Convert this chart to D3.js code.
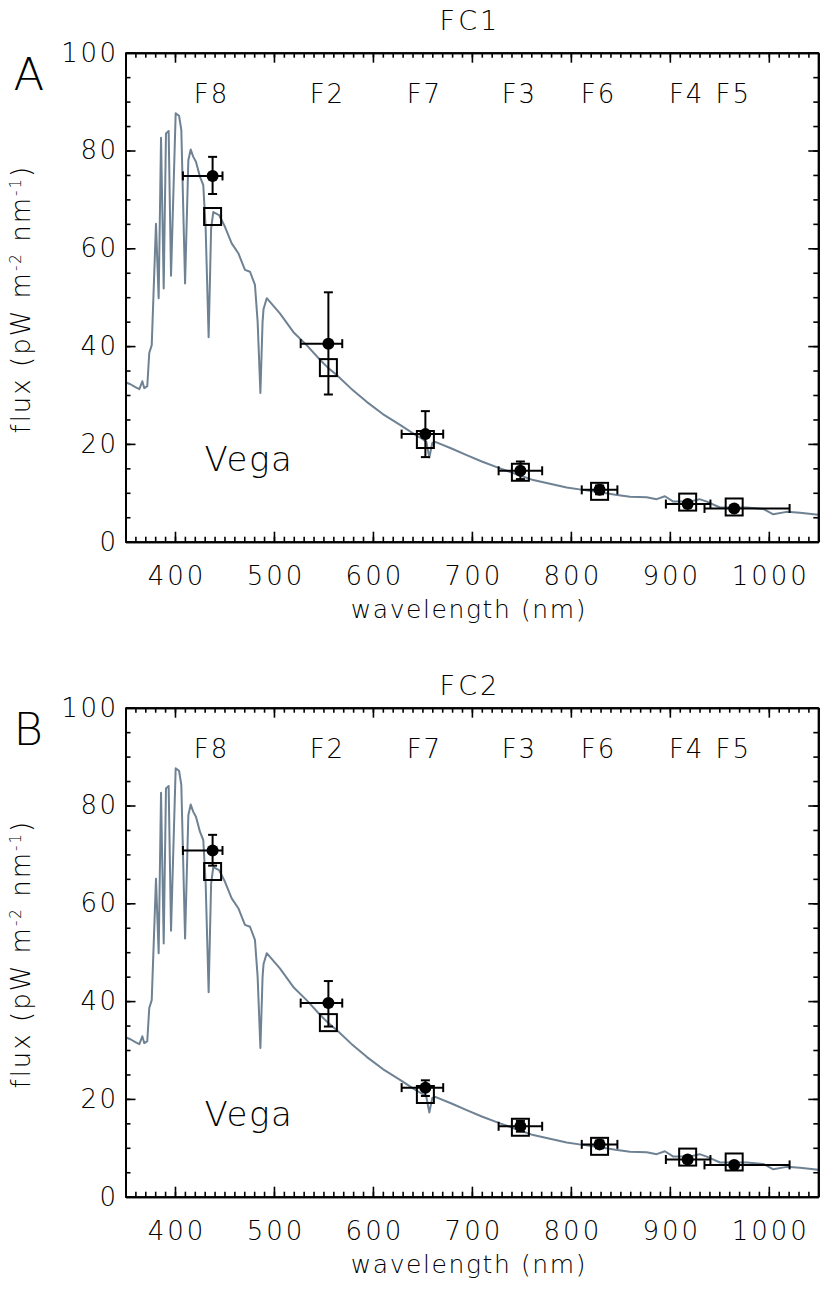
<!DOCTYPE html>
<html>
<head>
<meta charset="utf-8">
<script src="https://cdn.jsdelivr.net/npm/d3@7"></script>
<style>
body { margin: 0; background: #fff; }
svg text { font-family: "DejaVu Sans", sans-serif; font-weight: 200; fill: #000; }
.axis path, .axis line { stroke: #000; }
</style>
</head>
<body>
<svg id="chart" width="822" height="1290"></svg>
<script>
// Vega model spectrum (nm, pW m-2 nm-1)
var vegaWl = [350, 355, 360, 364, 367, 369, 372, 374, 376.5, 380.8, 383.5, 385.9, 388.6, 390.9, 393.6, 396,
  400.7, 404.1, 406.4, 410.2, 413.5, 415.9, 418.5, 421.2, 425.3, 428.6, 431, 434, 436.5, 438.7, 444.5, 450.5,
  457.3, 464, 470.7, 475.8, 480.8, 483.5, 486.3, 488.5, 489.5, 492.7, 506, 519.5, 533, 546.5, 555, 563.4,
  578, 593.7, 610, 627.4, 642.5, 650, 654, 657, 660, 663, 680, 694.7, 710, 728.4, 745, 762, 780, 795.8,
  812, 829.4, 845, 859.7, 876.6, 886.7, 895, 903.5, 920, 930, 937.3, 950.7, 977.6, 994.4, 1004.5, 1018, 1031.4, 1050];
var vegaFlux = [32.6, 32.2, 31.6, 31.2, 32.8, 31.4, 31.8, 38.6, 40.2, 65, 49.8, 82.6, 51.8, 83.5, 84.0, 54.4,
  87.6, 87.1, 84.2, 52.8, 78, 80.2, 78.7, 77.7, 74.6, 72.9, 64, 41.8, 64, 67.4, 66.8, 64.4,
  61, 59, 55.6, 55.2, 52.5, 45, 30.4, 45, 47.6, 49.8, 46.7, 42.9, 40.2, 37.2, 35.5, 34.1,
  31.3, 28.6, 26.1, 23.9, 21.9, 21.0, 20.4, 17.2, 20.2, 20.4, 19.0, 17.7, 16.4, 15.0, 13.8, 12.6, 11.8, 11.1,
  10.6, 10.1, 9.6, 9.2, 9.1, 8.7, 9.3, 8.2, 8.2, 8.7, 8.2, 7.0, 7.0, 6.7, 5.6, 6.1, 5.9, 5.5];

// filters
var filters = ["F8", "F2", "F7", "F3", "F6", "F4", "F5"];
var filterWl = [438, 555, 653, 749, 829, 918, 965];
var filterWlLo = [408, 527, 629, 727, 811, 896, 935];
var filterWlHi = [448, 569, 671, 771, 847, 941, 1021];

// model (synthetic) flux of Vega in each filter - open squares
var modelFlux = [66.5, 35.6, 20.9, 14.2, 10.3, 8.1, 7.1];

// measured flux, FC1
var fc1Flux = [74.8, 40.5, 22.0, 14.5, 10.6, 7.7, 6.8];
var fc1Lo = [71.1, 30.1, 17.3, 12.8, 9.7, 7.1, 6.3];
var fc1Hi = [78.7, 51.0, 26.7, 16.4, 11.5, 8.3, 7.3];

// measured flux, FC2
var fc2Flux = [70.8, 39.6, 22.3, 14.4, 10.7, 7.6, 6.5];
var fc2Lo = [67.7, 34.8, 20.6, 13.3, 9.9, 7.0, 6.0];
var fc2Hi = [74.0, 44.1, 23.8, 15.5, 11.5, 8.2, 7.0];

var xMajor = [400, 500, 600, 700, 800, 900, 1000];
var xMinor = d3.range(350, 1051, 10);
var yMajor = [0, 20, 40, 60, 80, 100];
var yMinor = d3.range(0, 101, 5);

var svg = d3.select("#chart");
var left = 125.5, width = 692.8, height = 489;

var spectrum = vegaWl.map(function(d, i) { return {wl: d, flux: vegaFlux[i]}; });

function makePoints(flux, lo, hi) {
  return filters.map(function(f, i) {
    return {name: f, wl: filterWl[i], wlLo: filterWlLo[i], wlHi: filterWlHi[i],
      flux: flux[i], lo: lo[i], hi: hi[i], model: modelFlux[i]};
  });
}

function drawPanel(top, title, titleY, letter, points) {
  var g = svg.append("g").attr("transform", "translate(" + left + "," + top + ")");

  var xScale = d3.scaleLinear().domain([350, 1050]).range([0, width]),
      yScale = d3.scaleLinear().domain([0, 100]).range([height, 0]);

  // spectrum
  var line = d3.line()
    .x(function(d) { return xScale(d.wl); })
    .y(function(d) { return yScale(d.flux); });

  g.append("path")
    .datum(spectrum)
    .attr("d", line)
    .attr("fill", "none")
    .attr("stroke", "#6e8294")
    .attr("stroke-width", 2)
    .attr("stroke-linejoin", "round");

  // axes: ticks inward on all four sides
  g.append("g").attr("class", "axis").attr("transform", "translate(0," + height + ")")
    .call(d3.axisBottom(xScale).tickValues(xMinor).tickSizeInner(-5).tickSizeOuter(0).tickFormat(""));
  g.append("g").attr("class", "axis xlab").attr("transform", "translate(0," + height + ")")
    .call(d3.axisBottom(xScale).tickValues(xMajor).tickSizeInner(-10).tickSizeOuter(0).tickPadding(25).tickFormat(d3.format("d")));
  g.append("g").attr("class", "axis")
    .call(d3.axisTop(xScale).tickValues(xMinor).tickSizeInner(-5).tickSizeOuter(0).tickFormat(""));
  g.append("g").attr("class", "axis")
    .call(d3.axisTop(xScale).tickValues(xMajor).tickSizeInner(-10).tickSizeOuter(0).tickFormat(""));

  g.append("g").attr("class", "axis")
    .call(d3.axisLeft(yScale).tickValues(yMinor).tickSizeInner(-5).tickSizeOuter(0).tickFormat(""));
  g.append("g").attr("class", "axis ylab")
    .call(d3.axisLeft(yScale).tickValues(yMajor).tickSizeInner(-10).tickSizeOuter(0).tickPadding(11).tickFormat(d3.format("d")));
  g.append("g").attr("class", "axis").attr("transform", "translate(" + width + ",0)")
    .call(d3.axisRight(yScale).tickValues(yMinor).tickSizeInner(-5).tickSizeOuter(0).tickFormat(""));
  g.append("g").attr("class", "axis").attr("transform", "translate(" + width + ",0)")
    .call(d3.axisRight(yScale).tickValues(yMajor).tickSizeInner(-10).tickSizeOuter(0).tickFormat(""));

  g.selectAll(".axis path").attr("stroke-width", 2);
  g.selectAll(".axis line").attr("stroke-width", 1.6);
  g.selectAll(".axis text").style("font-size", "26px").style("font-family", "DejaVu Sans")
    .style("font-weight", 200).style("letter-spacing", "3px");
  g.selectAll(".xlab text").attr("dx", "1.5px");
  g.selectAll(".ylab text").style("letter-spacing", "2.5px").attr("dx", "4px");

  // filter names
  g.selectAll(".fname")
    .data(points)
    .enter().append("text")
    .attr("class", "fname")
    .attr("x", function(d) { return xScale(d.wl) - 1; })
    .attr("y", 50)
    .attr("text-anchor", "middle")
    .style("font-size", "26px")
    .style("letter-spacing", "2px")
    .text(function(d) { return d.name; });

  // model squares
  g.selectAll(".model")
    .data(points)
    .enter().append("rect")
    .attr("class", "model")
    .attr("x", function(d) { return xScale(d.wl) - 8.5; })
    .attr("y", function(d) { return yScale(d.model) - 8.5; })
    .attr("width", 17)
    .attr("height", 17)
    .attr("fill", "none")
    .attr("stroke", "#000")
    .attr("stroke-width", 2);

  // error bars
  var eb = g.selectAll(".err")
    .data(points)
    .enter().append("g")
    .attr("class", "err")
    .attr("stroke", "#000")
    .attr("stroke-width", 2);

  eb.append("line")
    .attr("x1", function(d) { return xScale(d.wlLo); })
    .attr("x2", function(d) { return xScale(d.wlHi); })
    .attr("y1", function(d) { return yScale(d.flux); })
    .attr("y2", function(d) { return yScale(d.flux); });
  eb.append("line")
    .attr("x1", function(d) { return xScale(d.wlLo); })
    .attr("x2", function(d) { return xScale(d.wlLo); })
    .attr("y1", function(d) { return yScale(d.flux) - 4.5; })
    .attr("y2", function(d) { return yScale(d.flux) + 4.5; });
  eb.append("line")
    .attr("x1", function(d) { return xScale(d.wlHi); })
    .attr("x2", function(d) { return xScale(d.wlHi); })
    .attr("y1", function(d) { return yScale(d.flux) - 4.5; })
    .attr("y2", function(d) { return yScale(d.flux) + 4.5; });
  eb.append("line")
    .attr("x1", function(d) { return xScale(d.wl); })
    .attr("x2", function(d) { return xScale(d.wl); })
    .attr("y1", function(d) { return yScale(d.lo); })
    .attr("y2", function(d) { return yScale(d.hi); });
  eb.append("line")
    .attr("x1", function(d) { return xScale(d.wl) - 4.5; })
    .attr("x2", function(d) { return xScale(d.wl) + 4.5; })
    .attr("y1", function(d) { return yScale(d.lo); })
    .attr("y2", function(d) { return yScale(d.lo); });
  eb.append("line")
    .attr("x1", function(d) { return xScale(d.wl) - 4.5; })
    .attr("x2", function(d) { return xScale(d.wl) + 4.5; })
    .attr("y1", function(d) { return yScale(d.hi); })
    .attr("y2", function(d) { return yScale(d.hi); });

  // measured points
  g.selectAll(".meas")
    .data(points)
    .enter().append("circle")
    .attr("class", "meas")
    .attr("cx", function(d) { return xScale(d.wl); })
    .attr("cy", function(d) { return yScale(d.flux); })
    .attr("r", 6)
    .attr("fill", "#000");

  // labels
  g.append("text")
    .attr("x", 79)
    .attr("y", 418)
    .style("font-size", "34px")
    .style("letter-spacing", "1.5px")
    .text("Vega");

  g.append("text")
    .attr("x", width / 2 - 2)
    .attr("y", titleY - top)
    .attr("text-anchor", "middle")
    .style("font-size", "27px")
    .style("letter-spacing", "3px")
    .text(title);

  g.append("text")
    .attr("x", -112)
    .attr("y", 37)
    .style("font-size", "45px")
    .text(letter);

  g.append("text")
    .attr("x", width / 2 - 3)
    .attr("y", height + 76)
    .attr("text-anchor", "middle")
    .style("font-size", "25px")
    .style("letter-spacing", "1.6px")
    .text("wavelength (nm)");

  var yl = g.append("text")
    .attr("transform", "translate(-96," + (height / 2 + 2) + ") rotate(-90)")
    .attr("text-anchor", "middle")
    .style("font-size", "26px")
    .style("letter-spacing", "2px");
  yl.append("tspan").text("flux (pW m");
  yl.append("tspan").attr("baseline-shift", "super").style("font-size", "15px").text("-2");
  yl.append("tspan").text(" nm");
  yl.append("tspan").attr("baseline-shift", "super").style("font-size", "15px").text("-1");
  yl.append("tspan").text(")");
}

drawPanel(52.7, "FC1", 30, "A", makePoints(fc1Flux, fc1Lo, fc1Hi));
drawPanel(707.7, "FC2", 695, "B", makePoints(fc2Flux, fc2Lo, fc2Hi));
</script>
</body>
</html>
